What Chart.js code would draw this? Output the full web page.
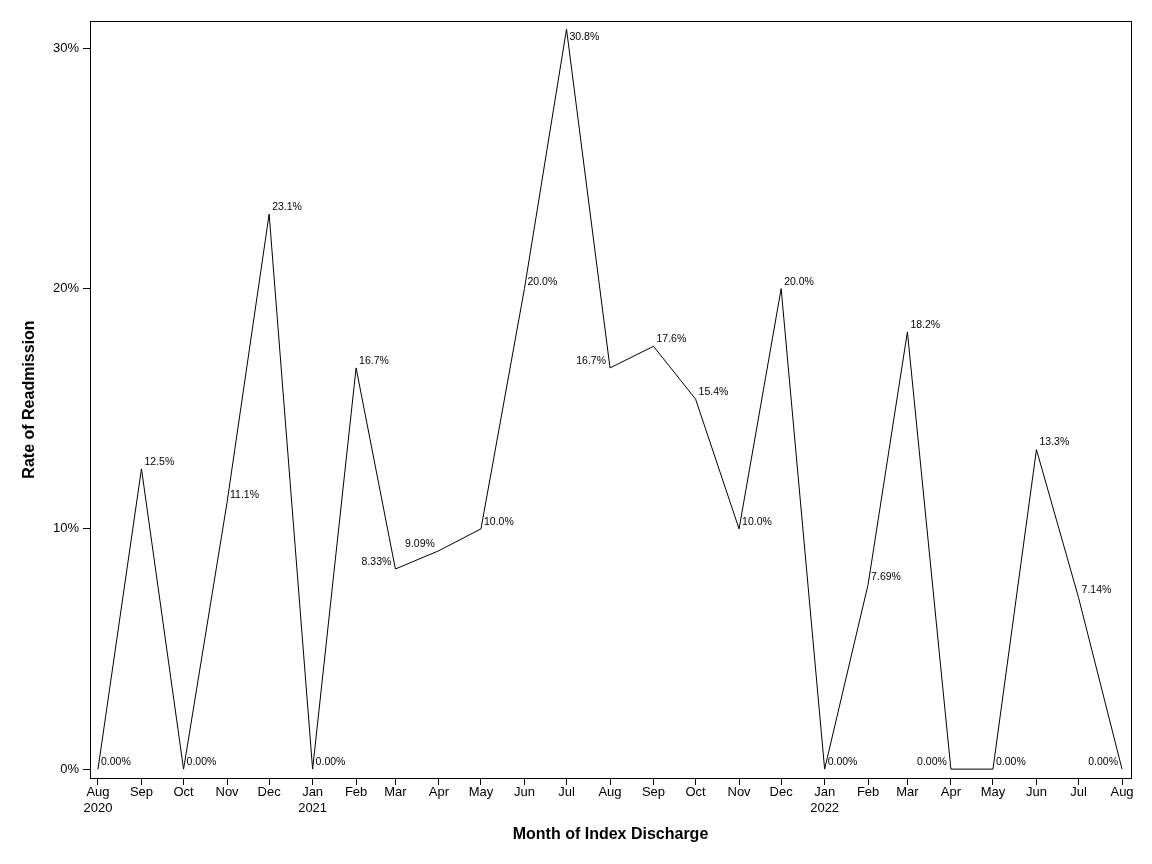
<!DOCTYPE html>
<html>
<head>
<meta charset="utf-8">
<script src="https://cdn.jsdelivr.net/npm/chart.js@4/dist/chart.umd.min.js"></script>
<style>
  html, body { margin: 0; padding: 0; background: #fff; }
  #wrap { width: 1152px; height: 864px; }
</style>
</head>
<body>
<div id="wrap"><canvas id="readmit" width="1152" height="864"></canvas></div>
<script>
'use strict';
// month of index discharge (first of month)
var months = ['2020-08', '2020-09', '2020-10', '2020-11', '2020-12',
              '2021-01', '2021-02', '2021-03', '2021-04', '2021-05', '2021-06',
              '2021-07', '2021-08', '2021-09', '2021-10', '2021-11', '2021-12',
              '2022-01', '2022-02', '2022-03', '2022-04', '2022-05', '2022-06',
              '2022-07', '2022-08'];
var tickLabels = ['Aug 2020', 'Sep', 'Oct', 'Nov', 'Dec',
                  'Jan 2021', 'Feb', 'Mar', 'Apr', 'May', 'Jun',
                  'Jul', 'Aug', 'Sep', 'Oct', 'Nov', 'Dec',
                  'Jan 2022', 'Feb', 'Mar', 'Apr', 'May', 'Jun',
                  'Jul', 'Aug'];
// rate of readmission, percent
var rates = [0, 12.5, 0, 11.1, 23.1,
             0, 16.7, 8.33, 9.09, 10.0, 20.0,
             30.8, 16.7, 17.6, 15.4, 10.0, 20.0,
             0, 7.69, 18.2, 0, 0, 13.3,
             7.14, 0];
var yTicks = [0, 10, 20, 30];
// which points get their label on the left
var leftLabels = [7, 8, 12, 20, 24];

var FONT = '"Liberation Sans", Arial, sans-serif';
var origin = Date.UTC(2020, 7, 1);

function dayOf(ym) {
    var p = ym.split('-');
    return (Date.UTC(+p[0], +p[1] - 1, 1) - origin) / 86400000;
}
var days = months.map(dayOf);

var points = [];
for (let i = 0; i < days.length; i++) {
    points.push({ x: days[i], y: rates[i] });
}

var paper = {
    id: 'paper',
    beforeDraw: function (chart) {
        var ctx = chart.ctx;
        ctx.save();
        ctx.fillStyle = '#fff';
        ctx.fillRect(0, 0, chart.width, chart.height);
        ctx.restore();
    },
    afterDraw: function (chart) {
        var a = chart.chartArea, ctx = chart.ctx;
        ctx.save();
        ctx.strokeStyle = '#000';
        ctx.lineWidth = 1;
        ctx.strokeRect(Math.round(a.left) + 0.5, Math.round(a.top) + 0.5,
                       Math.round(a.right - a.left), Math.round(a.bottom - a.top));
        ctx.restore();
    }
};

var pointLabels = {
    id: 'pointLabels',
    afterDatasetsDraw: function (chart) {
        var ctx = chart.ctx;
        var top = chart.chartArea.top;
        var meta = chart.getDatasetMeta(0);
        ctx.save();
        ctx.font = '10.5px ' + FONT;
        ctx.fillStyle = '#000';
        ctx.textBaseline = 'middle';
        meta.data.forEach(function (pt, i) {
            var txt = rates[i].toPrecision(3) + '%';
            // keep labels inside the frame near the top edge
            var ly = Math.max(pt.y - 7, top + 16);
            if (leftLabels.indexOf(i) >= 0) {
                ctx.textAlign = 'right';
                ctx.fillText(txt, pt.x - 4, ly);
            } else {
                ctx.textAlign = 'left';
                ctx.fillText(txt, pt.x + 3, ly);
            }
        });
        ctx.restore();
    }
};

var chart = new Chart(document.getElementById('readmit').getContext('2d'), {
    type: 'line',
    data: {
        datasets: [{
            label: 'Rate of Readmission',
            data: points,
            borderColor: '#000',
            borderWidth: 1,
            pointRadius: 0,
            tension: 0,
            fill: false
        }]
    },
    options: {
        responsive: false,
        animation: false,
        devicePixelRatio: 1,
        layout: { padding: { top: 21, right: 21, left: 0, bottom: 0 } },
        plugins: {
            legend: { display: false },
            tooltip: { enabled: false }
        },
        scales: {
            x: {
                type: 'linear',
                min: -5.7,
                max: 736.4,
                afterBuildTicks: function (axis) {
                    axis.ticks = days.map(function (d) { return { value: d }; });
                },
                afterFit: function (axis) { axis.height = 86; },
                ticks: {
                    autoSkip: false,
                    maxRotation: 0,
                    padding: 0,
                    color: '#000',
                    font: { family: FONT, size: 13 },
                    callback: function (value, index) {
                        return tickLabels[index].split(' ');
                    }
                },
                grid: { drawOnChartArea: false, tickLength: 7, color: '#000' },
                border: { display: true, color: '#000' },
                title: {
                    display: true,
                    text: 'Month of Index Discharge',
                    color: '#000',
                    font: { family: FONT, size: 16, weight: 'bold' },
                    padding: { top: 0, bottom: 20 }
                }
            },
            y: {
                min: -0.37,
                max: 31.14,
                afterBuildTicks: function (axis) {
                    axis.ticks = yTicks.map(function (v) { return { value: v }; });
                },
                afterFit: function (axis) { axis.width = 90; },
                ticks: {
                    padding: 4,
                    color: '#000',
                    font: { family: FONT, size: 13 },
                    callback: function (value) { return value + '%'; }
                },
                grid: { drawOnChartArea: false, tickLength: 7, color: '#000' },
                border: { display: true, color: '#000' },
                title: {
                    display: true,
                    text: 'Rate of Readmission',
                    color: '#000',
                    font: { family: FONT, size: 16, weight: 'bold' },
                    padding: { top: 20, bottom: 0 }
                }
            }
        }
    },
    plugins: [paper, pointLabels]
});
</script>
</body>
</html>
